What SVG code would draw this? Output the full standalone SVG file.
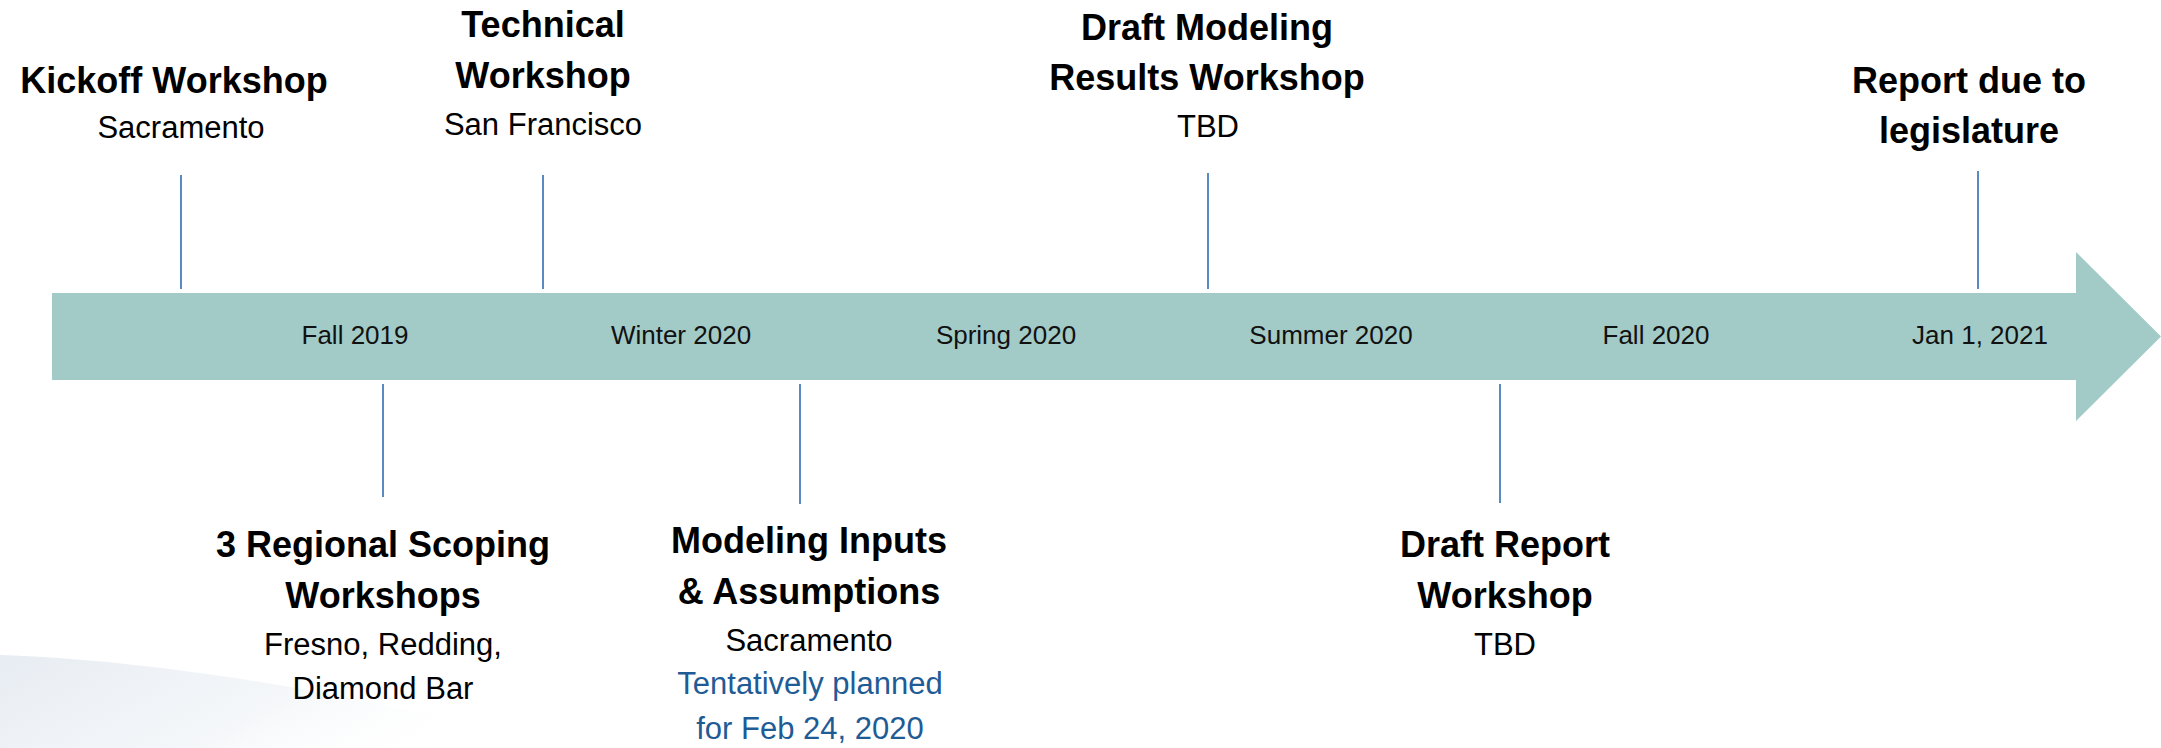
<svg xmlns="http://www.w3.org/2000/svg" width="2161" height="748" viewBox="0 0 2161 748">
<defs>
<style>
.t{font-family:"Liberation Sans",Arial,sans-serif;font-weight:bold;font-size:36px;fill:#000;text-anchor:middle}
.s{font-family:"Liberation Sans",Arial,sans-serif;font-size:31px;fill:#000;text-anchor:middle}
.b{font-family:"Liberation Sans",Arial,sans-serif;font-size:31px;fill:#1F5C96;text-anchor:middle}
.p{font-family:"Liberation Sans",Arial,sans-serif;font-size:26px;fill:#111;text-anchor:middle}
.c{stroke:#2F6DB0;stroke-width:1.6;fill:none}
</style>
<linearGradient id="sw" x1="0" y1="0" x2="1" y2="0.3">
<stop offset="0" stop-color="#E4EAF1" stop-opacity="0.9"/>
<stop offset="0.6" stop-color="#EEF2F6" stop-opacity="0.6"/>
<stop offset="1" stop-color="#FFFFFF" stop-opacity="0"/>
</linearGradient>
</defs>
<rect width="2161" height="748" fill="#fff"/>
<path d="M0,655 C150,660 350,690 560,748 L0,748 Z" fill="url(#sw)"/>
<g id="timeline">
<path d="M52,293 H2076 V252 L2161,336.5 L2076,421 V380 H52 Z" fill="#A2CAC7"/>
<text class="p" x="355" y="344">Fall 2019</text>
<text class="p" x="681" y="344">Winter 2020</text>
<text class="p" x="1006" y="344">Spring 2020</text>
<text class="p" x="1331" y="344">Summer 2020</text>
<text class="p" x="1656" y="344">Fall 2020</text>
<text class="p" x="1980" y="344">Jan 1, 2021</text>
</g>
<g id="connectors">
<line class="c" x1="181" y1="175" x2="181" y2="289"/>
<line class="c" x1="543" y1="175" x2="543" y2="289"/>
<line class="c" x1="1208" y1="173" x2="1208" y2="289"/>
<line class="c" x1="1978" y1="171" x2="1978" y2="289"/>
<line class="c" x1="383" y1="384" x2="383" y2="497"/>
<line class="c" x1="800" y1="384" x2="800" y2="504"/>
<line class="c" x1="1500" y1="384" x2="1500" y2="503"/>
</g>
<g id="kickoff">
<text class="t" x="174" y="93">Kickoff Workshop</text>
<text class="s" x="181" y="138">Sacramento</text>
</g>
<g id="technical">
<text class="t" x="543" y="37">Technical</text>
<text class="t" x="543" y="88">Workshop</text>
<text class="s" x="543" y="135">San Francisco</text>
</g>
<g id="draft-modeling">
<text class="t" x="1207" y="40">Draft Modeling</text>
<text class="t" x="1207" y="90">Results Workshop</text>
<text class="s" x="1208" y="137">TBD</text>
</g>
<g id="report-due">
<text class="t" x="1969" y="93">Report due to</text>
<text class="t" x="1969" y="143">legislature</text>
</g>
<g id="regional-scoping">
<text class="t" x="383" y="557">3 Regional Scoping</text>
<text class="t" x="383" y="608">Workshops</text>
<text class="s" x="383" y="655">Fresno, Redding,</text>
<text class="s" x="383" y="699">Diamond Bar</text>
</g>
<g id="modeling-inputs">
<text class="t" x="809" y="553">Modeling Inputs</text>
<text class="t" x="809" y="604">&amp; Assumptions</text>
<text class="s" x="809" y="651">Sacramento</text>
<text class="b" x="810" y="694">Tentatively planned</text>
<text class="b" x="810" y="739">for Feb 24, 2020</text>
</g>
<g id="draft-report">
<text class="t" x="1505" y="557">Draft Report</text>
<text class="t" x="1505" y="608">Workshop</text>
<text class="s" x="1505" y="655">TBD</text>
</g>
</svg>
